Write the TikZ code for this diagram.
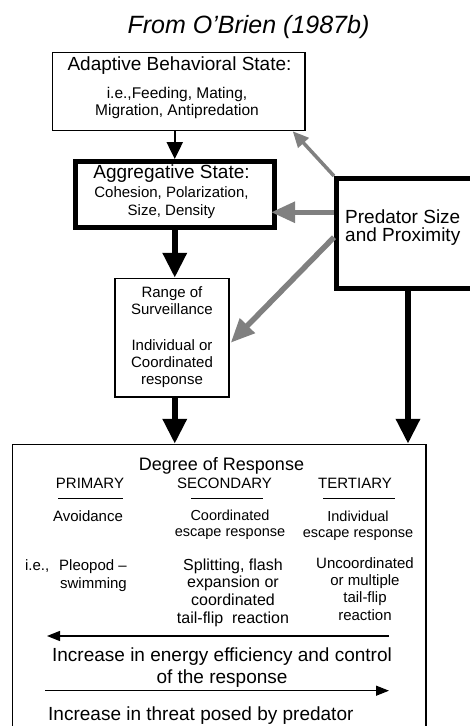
\documentclass[tikz,border=0pt]{standalone}
\usepackage{fontspec}
\setmainfont{Liberation Sans}
\usetikzlibrary{arrows.meta,calc}

\begin{document}
\begin{tikzpicture}[x=1pt,y=-1pt]
\tikzset{box/.style = {draw, line width=1.4pt, inner sep=0pt},
  thick box/.style = {draw, line width=5pt, inner sep=0pt},
  txt/.style = {anchor=base, inner sep=0pt, align=center},
  fbig/.style = {font=\fontsize{19}{21.6}\selectfont},
  fmid/.style = {font=\fontsize{15.5}{16.7}\selectfont},
  fsmall/.style = {font=\fontsize{15}{17}\selectfont},
  blk arrow/.style = {line width=6.5pt, -{Triangle[length=25pt,width=23pt]}},
  thin arrow/.style = {line width=2.5pt, -{Triangle[length=17pt,width=16pt]}},
  grey arrow/.style = {draw=black!50, line width=5.5pt, -{Triangle[length=24pt,width=20pt]}},
  line arrow/.style = {line width=1.3pt, -{Triangle[length=13pt,width=10pt]}}}
\useasboundingbox (0,0) rectangle (470,726);
\clip (0,0) rectangle (470,726);

\node[txt, font=\fontsize{25}{30}\selectfont\itshape] (title) at (248.5,33) {From O'Brien (1987b)};

% boxes
\node[box, minimum width=252.5pt, minimum height=78pt] (adapt) at (178.75,91.5) {};
\node[thick box, minimum width=199.5pt, minimum height=66pt] (agg) at (174.75,194.5) {};
\node[box, minimum width=114pt, minimum height=118.5pt] (range) at (172,337.75) {};
\node[thick box, minimum width=200pt, minimum height=109.5pt] (pred) at (436.5,233.25) {};
\node[box, minimum width=413.5pt, minimum height=320pt] (resp) at (219.25,604.5) {};

% box texts (multi-line: placed at the last baseline)
\node[txt, fbig] (adaptT) at (179.5,70.7) {Adaptive Behavioral State:};
\node[txt, fmid] (adaptL) at (177,115) {i.e.,Feeding, Mating,\\Migration, Antipredation};
\node[txt, fbig] (aggT) at (171.5,178.3) {Aggregative State:};
\node[txt, font=\fontsize{15}{17.3}\selectfont] (aggL) at (171.5,215) {Cohesion, Polarization,\\Size, Density};
\node[txt, font=\fontsize{19}{18.4}\selectfont, anchor=base west, align=left] (predT) at (345,241.7) {Predator Size\\and Proximity};
\node[txt, fsmall] (rangeT) at (172,384) {Range of\\Surveillance\\[19pt]Individual or\\Coordinated\\response};

% degree of response
\node[txt, font=\fontsize{18}{20}\selectfont] (degree) at (221.5,470) {Degree of Response};
\node[txt, fsmall] (prim) at (90,488.3) {PRIMARY};
\node[txt, fsmall] (sec) at (224.5,488.3) {SECONDARY};
\node[txt, fsmall] (tert) at (355,488.3) {TERTIARY};
\draw[line width=1.2pt] ($(prim.base)+(-32,10)$) -- ++(65,0);
\draw[line width=1.2pt] ($(sec.base)+(-33.5,10)$) -- ++(72,0);
\draw[line width=1.2pt] ($(tert.base)+(-32,10)$) -- ++(72,0);
\node[txt, fsmall] (avoid) at (88,521.7) {Avoidance};
\node[txt, font=\fontsize{14.5}{16}\selectfont] (coord) at (230,536.7) {Coordinated\\escape response};
\node[txt, font=\fontsize{14.5}{16}\selectfont] (indiv) at (358,537) {Individual\\escape response};
\node[txt, font=\fontsize{15}{18}\selectfont, anchor=base east, align=right] (pleo) at (127,588) {i.e.,\hspace{10pt}Pleopod –\\swimming};
\node[txt, font=\fontsize{16}{17.7}\selectfont] (split) at (233,623.3) {Splitting, flash\\expansion or\\coordinated\\tail-flip\ \ reaction};
\node[txt, font=\fontsize{15}{17.2}\selectfont] (uncoord) at (365,620) {Uncoordinated\\or multiple\\tail-flip\\reaction};

\coordinate (effR) at (389,636);
\coordinate (effL) at (47,636);
\draw[line arrow] (effR) -- (effL);
\node[txt, fbig] (eff) at (222,683.3) {Increase in energy efficiency and control\\of the response};
\coordinate (thrL) at (45,690.7);
\coordinate (thrR) at (389,690.7);
\draw[line arrow] (thrL) -- (thrR);
\node[txt, fbig, anchor=base west] (threat) at (48,720) {Increase in threat posed by predator};

% connectors
\draw[thin arrow] (adapt.south -| agg.north) -- (agg.north);
\draw[blk arrow] (agg.south) -- (agg.south |- range.north);
\draw[blk arrow] (agg.south |- range.south) -- (agg.south |- resp.north);
\coordinate (predout) at ($(pred.south west)+(74,0)$);
\draw[blk arrow] (predout) -- (predout |- resp.north);
\draw[grey arrow, line width=3.5pt, -{Triangle[length=16pt,width=14pt]}] (pred.north west) -- ($(adapt.south east)+(-13,0)$);
\coordinate (p2) at ($(pred.west)+(0,-21)$);
\draw[grey arrow] (p2) -- ($(agg.east |- p2)+(-6,0)$);
\coordinate (p3) at ($(pred.west)+(0,4)$);
\draw[grey arrow] (p3) -- ($(range.east)+(1,5)$);
\end{tikzpicture}
\end{document}
